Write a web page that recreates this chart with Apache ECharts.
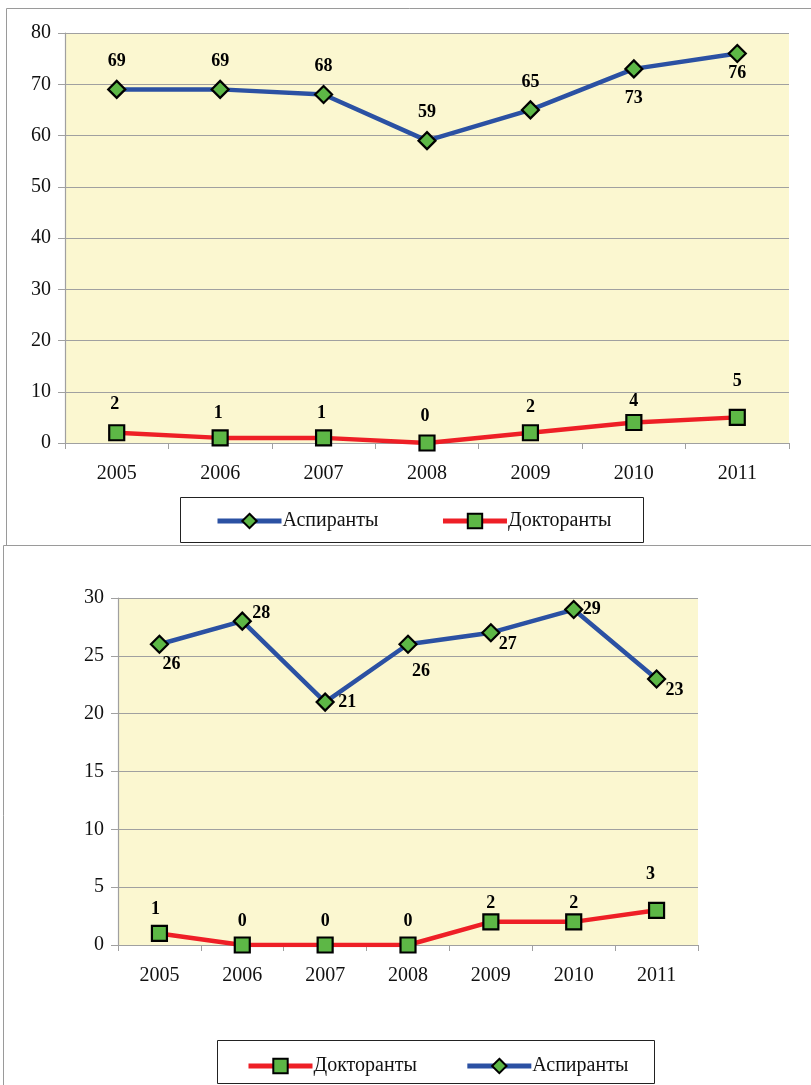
<!DOCTYPE html>
<html>
<head>
<meta charset="utf-8">
<script src="https://cdn.jsdelivr.net/npm/echarts@6/dist/echarts.min.js"></script>
<style>
  html, body { margin: 0; padding: 0; background: #fff; }
  #main { width: 811px; height: 1085px; }
</style>
</head>
<body>
<div id="main"></div>
<script>
  // data
  const years = ['2005', '2006', '2007', '2008', '2009', '2010', '2011']
  const aspTop = [69, 69, 68, 59, 65, 73, 76]
  const docTop = [2, 1, 1, 0, 2, 4, 5]
  const docBottom = [1, 0, 0, 0, 2, 2, 3]
  const aspBottom = [26, 28, 21, 26, 27, 29, 23]
  const topTicks = { min: 0, max: 80, interval: 10 }
  const bottomTicks = { min: 0, max: 30, interval: 5 }

  // label placement (offset from marker centre), per point
  const aspTopOff = [[0, -28], [0, -28], [0, -28], [0, -28], [0, -28], [0, 29], [0, 20]]
  const docTopOff = [[-2, -28], [-2, -25], [-2, -25], [-2, -27], [0, -25], [0, -21], [0, -36]]
  const aspBotOff = [[12, 20], [19, -8], [22, 0], [13, 27], [17, 12], [18, 0], [18, 11]]
  const docBotOff = [[-4, -24], [0, -24], [0, -24], [0, -24], [0, -19], [0, -19], [-6, -36]]

  const FONT = 'Liberation Serif'
  const BLUE = '#2b51a3'
  const RED = '#ee1f26'
  const GREEN = '#5db746'
  const GRID_LINE = '#a0a0a0'

  function labelled(values, offsets) {
    return values.map(function (v, i) {
      return { value: v, label: { offset: offsets[i] } }
    })
  }

  function lineSeries(name, values, offsets, idx, color, symbol) {
    return {
      name: name,
      type: 'line',
      xAxisIndex: idx,
      yAxisIndex: idx,
      data: labelled(values, offsets),
      symbol: symbol,
      symbolSize: symbol === 'diamond' ? 17 : 15,
      lineStyle: { color: color, width: 4.5 },
      itemStyle: { color: GREEN, borderColor: '#000', borderWidth: 2.2 },
      label: {
        show: true,
        position: 'inside',
        fontFamily: FONT,
        fontWeight: 'bold',
        fontSize: 18,
        color: '#000'
      },
      z: symbol === 'diamond' ? 3 : 2,
      animation: false
    }
  }

  function xAxis(idx) {
    return {
      type: 'category',
      gridIndex: idx,
      data: years,
      axisLine: { lineStyle: { color: GRID_LINE, width: 1.2 } },
      axisTick: { show: true, length: 6, interval: 0, lineStyle: { color: GRID_LINE } },
      axisLabel: { fontFamily: FONT, fontSize: 20, color: '#111', margin: 21 }
    }
  }

  function yAxis(idx, ticks) {
    return {
      type: 'value',
      gridIndex: idx,
      min: ticks.min,
      max: ticks.max,
      interval: ticks.interval,
      axisLine: { show: true, lineStyle: { color: GRID_LINE, width: 1.2 } },
      axisTick: { show: true, length: 7, lineStyle: { color: GRID_LINE } },
      splitLine: { show: true, lineStyle: { color: GRID_LINE, width: 1.2 } },
      axisLabel: { fontFamily: FONT, fontSize: 20, color: '#111', margin: 14 }
    }
  }

  const legendBase = {
    itemWidth: 64,
    itemHeight: 18,
    lineStyle: { width: 5 },
    textStyle: { fontFamily: FONT, fontSize: 20, color: '#111', padding: [0, 0, 0, -4] }
  }

  let myChart = echarts.init(document.getElementById('main'), null, { renderer: 'canvas' })
  myChart.setOption({
    backgroundColor: '#fff',
    animation: false,
    grid: [
      { left: 65, top: 33, width: 724, height: 410, show: true, backgroundColor: '#fbf7d0', borderWidth: 0 },
      { left: 118, top: 598, width: 580, height: 347, show: true, backgroundColor: '#fbf7d0', borderWidth: 0 }
    ],
    xAxis: [xAxis(0), xAxis(1)],
    yAxis: [yAxis(0, topTicks), yAxis(1, bottomTicks)],
    legend: [
      Object.assign({}, legendBase, {
        data: ['Аспиранты', 'Докторанты'],
        left: 210,
        top: 506,
        itemGap: 62
      }),
      Object.assign({}, legendBase, {
        data: ['Докторанты', 'Аспиранты'],
        left: 241,
        top: 1051,
        itemGap: 48
      })
    ],
    graphic: [
      { type: 'rect', shape: { x: 6.5, y: 8.5, width: 900, height: 537 }, style: { fill: 'none', stroke: '#9a9a9a', lineWidth: 1 }, silent: true },
      { type: 'rect', shape: { x: 3.5, y: 545.5, width: 900, height: 600 }, style: { fill: 'none', stroke: '#9a9a9a', lineWidth: 1 }, silent: true },
      { type: 'rect', shape: { x: 180.5, y: 497.5, width: 463, height: 45 }, style: { fill: 'none', stroke: '#222', lineWidth: 1 }, silent: true },
      { type: 'rect', shape: { x: 217.5, y: 1040.5, width: 437, height: 43 }, style: { fill: 'none', stroke: '#222', lineWidth: 1 }, silent: true }
    ],
    series: [
      lineSeries('Аспиранты', aspTop, aspTopOff, 0, BLUE, 'diamond'),
      lineSeries('Докторанты', docTop, docTopOff, 0, RED, 'rect'),
      lineSeries('Докторанты', docBottom, docBotOff, 1, RED, 'rect'),
      lineSeries('Аспиранты', aspBottom, aspBotOff, 1, BLUE, 'diamond')
    ]
  })
</script>
</body>
</html>
